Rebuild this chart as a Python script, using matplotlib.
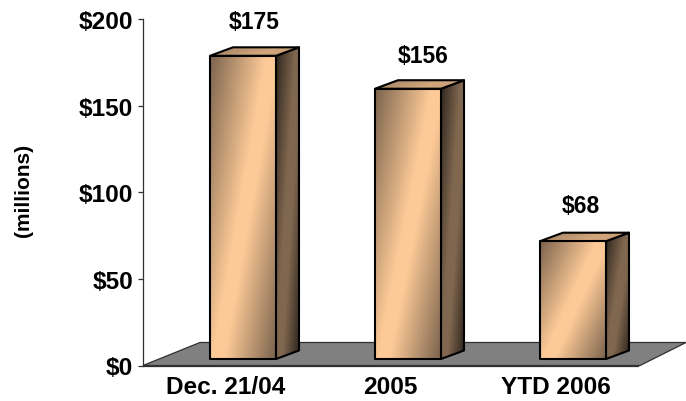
import numpy as np
import matplotlib
matplotlib.use("Agg")
import matplotlib.pyplot as plt
from matplotlib.patches import Polygon
from matplotlib.colors import LinearSegmentedColormap

categories = ["Dec. 21/04", "2005", "YTD 2006"]
values = [175, 156, 68]
value_labels = ["$175", "$156", "$68"]
y_ticks = [0, 50, 100, 150, 200]
y_tick_labels = ["$0", "$50", "$100", "$150", "$200"]
y_title = "(millions)"

W, H = 686, 402
plt.rcParams["font.family"] = ["Liberation Sans", "DejaVu Sans"]
plt.rcParams["font.weight"] = "bold"
fig = plt.figure(figsize=(W / 100, H / 100), dpi=100)
L, R, T, B = 143.0, 638.0, 20.0, 366.5
ax = fig.add_axes([L / W, 1 - B / H, (R - L) / W, (B - T) / H])
ax.set_xlim(-0.5, 2.5)
ax.set_ylim(0, 200)
px_x = 3 / (R - L)
px_y = 200 / (B - T)

front_cmap = LinearSegmentedColormap.from_list("f", [(0, "#7c644e"), (0.47, "#fdca97"), (0.57, "#fdca97"), (1, "#7c644e")])
side_cmap = LinearSegmentedColormap.from_list("s", [(0, "#2e251d"), (0.45, "#80674f"), (0.62, "#80674f"), (1, "#2e251d")])
top_cmap = LinearSegmentedColormap.from_list("t", [(0, "#9c7d60"), (0.6, "#d2a77c"), (1, "#c09870")])


def gradient(poly, cmap, skew, z):
    xs, ys = zip(*poly)
    u, v = np.meshgrid(np.linspace(0, 1, 80), np.linspace(0, 1, 120))
    t = (u + skew * v) / (1 + skew)
    im = ax.imshow(t, cmap=cmap, vmin=0, vmax=1, aspect="auto", origin="upper",
                   extent=(min(xs), max(xs), min(ys), max(ys)), zorder=z, interpolation="bilinear")
    im.set_clip_path(Polygon(poly, transform=ax.transData))
    ax.add_patch(Polygon(poly, closed=True, fill=False, edgecolor="#000000", lw=1.5, zorder=z + 0.5, joinstyle="round", clip_on=False))


# floor
floor = [(-0.5, 0), (-0.5 + 57 * px_x, 23 * px_y), (-0.5 + 543 * px_x, 23 * px_y), (-0.5 + 497 * px_x, 0)]
ax.add_patch(Polygon(floor, closed=True, facecolor="#808080", edgecolor="#303030", lw=0.9, zorder=1, clip_on=False))

dx, dy = 23 * px_x, 8.5 * px_y
base = 6.5 * px_y
width = 66 * px_x
shift = 17.5 * px_x
label_dx = [11.5, 15.5, 7.5]
label_dy = [34.5, 33, 36]
for i, val in enumerate(values):
    x0 = i + shift - width / 2
    x1 = x0 + width
    y0, y1 = base, base + val
    gradient([(x1, y0), (x1 + dx, y0 + dy), (x1 + dx, y1 + dy), (x1, y1)], side_cmap, 0.9, 3)
    gradient([(x0, y1), (x0 + dx, y1 + dy), (x1 + dx, y1 + dy), (x1, y1)], top_cmap, 0.3, 4)
    gradient([(x0, y0), (x1, y0), (x1, y1), (x0, y1)], front_cmap, 0.83, 5)
    ax.text(x0 + width / 2 + label_dx[i] * px_x, y1 + label_dy[i] * px_y, value_labels[i], ha="center", va="center",
            fontsize=16.5, fontweight="bold", color="black", zorder=6)

ax.set_xlim(-0.5, 2.5)
ax.set_ylim(0, 200)
for s in ["top", "right"]:
    ax.spines[s].set_visible(False)
for s in ["left", "bottom"]:
    ax.spines[s].set_linewidth(0.9)
    ax.spines[s].set_color("#303030")
    ax.spines[s].set_zorder(2)
ax.set_yticks(y_ticks)
ax.set_yticklabels(y_tick_labels, fontsize=17.6, fontweight="bold")
ax.set_xticks(range(len(categories)))
ax.set_xticklabels(categories, fontsize=17.6, fontweight="bold")
ax.tick_params(axis="y", length=3.8, width=0.9, pad=3.2, color="#303030")
ax.tick_params(axis="x", length=0, pad=6.5)
fig.text(24 / W, 1 - 190 / H, y_title, rotation=90, ha="center", va="center", fontsize=15, fontweight="bold")
fig.savefig("out.png", dpi=100)
